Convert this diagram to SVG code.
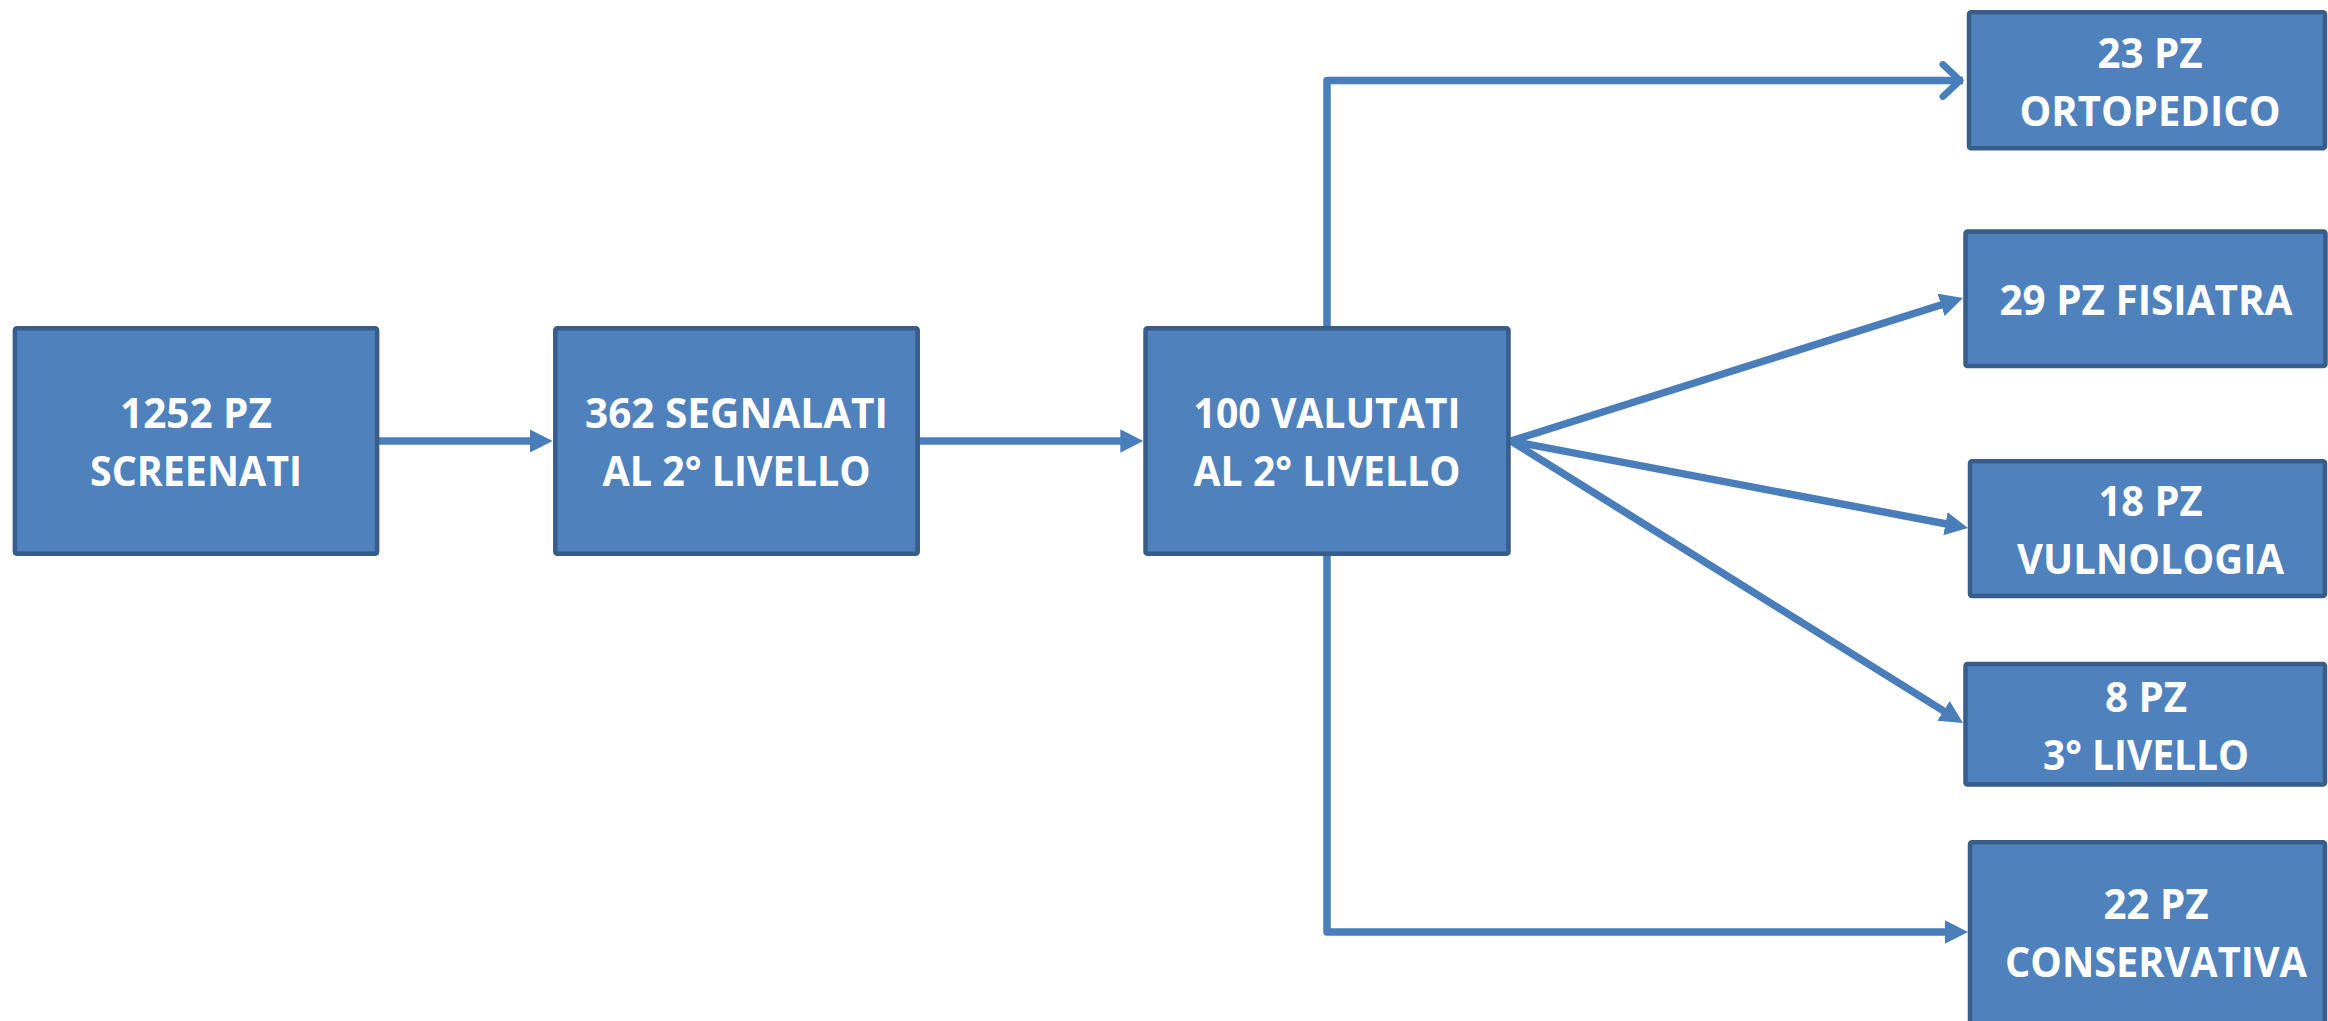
<svg xmlns="http://www.w3.org/2000/svg" width="2328" height="1021" viewBox="0 0 2328 1021">
  <style>
    .box { fill: #4f81bd; stroke: #385d8a; stroke-width: 4.5; }
    .lbl { fill: #ffffff; font-family: "Open Sans", "Liberation Sans", sans-serif; font-weight: 700; font-size: 42px; text-anchor: middle; }
    .wire { fill: none; stroke: #4a7ebb; stroke-width: 7.5; stroke-linejoin: round; }
  </style>
  <defs>
    <marker id="tri" markerUnits="userSpaceOnUse" markerWidth="24" markerHeight="24" refX="8" refY="11.7" orient="auto">
      <path d="M0,0 L23,11.7 L0,23.4 Z" fill="#4a7ebb"/>
    </marker>
    <marker id="open" markerUnits="userSpaceOnUse" markerWidth="40" markerHeight="40" refX="30" refY="20" orient="auto">
      <path d="M10,4 L27,20 L10,36" fill="none" stroke="#4a7ebb" stroke-width="7" stroke-linecap="round" stroke-linejoin="round"/>
    </marker>
  </defs>

  <g id="connectors">
    <line class="wire" x1="379" y1="441" x2="537.7" y2="441" marker-end="url(#tri)"/>
    <line class="wire" x1="920" y1="441" x2="1128.3" y2="441" marker-end="url(#tri)"/>
    <polyline class="wire" points="1327,326 1327,80.5 1963,80.5" marker-end="url(#open)"/>
    <line class="wire" x1="1511" y1="441" x2="1948.7" y2="302.5" marker-end="url(#tri)"/>
    <line class="wire" x1="1511" y1="441" x2="1953.3" y2="525.2" marker-end="url(#tri)"/>
    <line class="wire" x1="1511" y1="441" x2="1950.3" y2="715.1" marker-end="url(#tri)"/>
    <polyline class="wire" points="1327,556 1327,932 1953,932" marker-end="url(#tri)"/>
  </g>

  <g id="screenati">
    <rect class="box" x="14.9" y="328.3" width="362.2" height="225.5" rx="2"/>
    <text class="lbl" x="196" y="428.3" textLength="152" lengthAdjust="spacingAndGlyphs">1252 PZ</text>
    <text class="lbl" x="196" y="486" textLength="212" lengthAdjust="spacingAndGlyphs">SCREENATI</text>
  </g>

  <g id="segnalati">
    <rect class="box" x="555.3" y="328.3" width="362.4" height="225.5" rx="2"/>
    <text class="lbl" x="736.5" y="428.3" textLength="303" lengthAdjust="spacingAndGlyphs">362 SEGNALATI</text>
    <text class="lbl" x="736.5" y="486" textLength="268" lengthAdjust="spacingAndGlyphs">AL 2° LIVELLO</text>
  </g>

  <g id="valutati">
    <rect class="box" x="1145.5" y="328.3" width="363" height="225.5" rx="2"/>
    <text class="lbl" x="1327" y="428.3" textLength="267" lengthAdjust="spacingAndGlyphs">100 VALUTATI</text>
    <text class="lbl" x="1327" y="486" textLength="267" lengthAdjust="spacingAndGlyphs">AL 2° LIVELLO</text>
  </g>

  <g id="ortopedico">
    <rect class="box" x="1969" y="12.3" width="356" height="136" rx="2"/>
    <text class="lbl" x="2150" y="68.3" textLength="105" lengthAdjust="spacingAndGlyphs">23 PZ</text>
    <text class="lbl" x="2150" y="126" textLength="261" lengthAdjust="spacingAndGlyphs">ORTOPEDICO</text>
  </g>

  <g id="fisiatra">
    <rect class="box" x="1965.5" y="231.5" width="360" height="134.6" rx="2"/>
    <text class="lbl" x="2146" y="315" textLength="293" lengthAdjust="spacingAndGlyphs">29 PZ FISIATRA</text>
  </g>

  <g id="vulnologia">
    <rect class="box" x="1970" y="461.3" width="355" height="134.8" rx="2"/>
    <text class="lbl" x="2150.5" y="516" textLength="104" lengthAdjust="spacingAndGlyphs">18 PZ</text>
    <text class="lbl" x="2150.5" y="574" textLength="267" lengthAdjust="spacingAndGlyphs">VULNOLOGIA</text>
  </g>

  <g id="terzo-livello">
    <rect class="box" x="1965.5" y="664" width="359.5" height="120.5" rx="2"/>
    <text class="lbl" x="2146" y="711.7" textLength="82" lengthAdjust="spacingAndGlyphs">8 PZ</text>
    <text class="lbl" x="2146" y="770" textLength="206" lengthAdjust="spacingAndGlyphs">3° LIVELLO</text>
  </g>

  <g id="conservativa">
    <rect class="box" x="1970" y="842.3" width="355" height="182" rx="2"/>
    <text class="lbl" x="2156" y="919.3" textLength="105" lengthAdjust="spacingAndGlyphs">22 PZ</text>
    <text class="lbl" x="2156" y="976.7" textLength="302" lengthAdjust="spacingAndGlyphs">CONSERVATIVA</text>
  </g>
</svg>
